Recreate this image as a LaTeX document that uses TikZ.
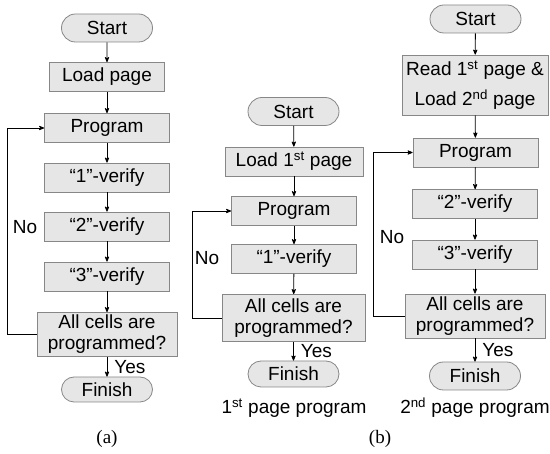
\documentclass[tikz,border=0pt]{standalone}
\usepackage{fontspec}
\setmainfont{Liberation Sans}
\newfontfamily\capfont{Liberation Serif}
\usetikzlibrary{%
  arrows,%
  shapes.misc,% wg. rounded rectangle
  positioning%
}
\definecolor{boxfill}{RGB}{230,230,230}
\definecolor{boxline}{RGB}{135,135,135}
\newcommand{\nth}[1]{\textsuperscript{#1}}

\begin{document}
\begin{tikzpicture}[
  x=1pt, y=-1pt,
  font=\fontsize{19}{21}\selectfont, >=stealth', line width=0.8pt,
  termbox/.style={rounded rectangle, minimum height=28pt, minimum width=93pt, draw=boxline, fill=boxfill, inner sep=1pt},
  procbox/.style={rectangle, minimum height=29pt, minimum width=125pt, draw=boxline, fill=boxfill, inner sep=1pt},
  checkbox/.style={rectangle, minimum height=44pt, minimum width=140pt, draw=boxline, fill=boxfill, inner sep=1pt, align=center},
  flow/.style={->, black},
  yeslabel/.style={right, inner sep=1pt, xshift=6pt}
]
\useasboundingbox (0,0) rectangle (550,454);

% (a)
\node[termbox] (startA) at (107,28) {Start};
\node[procbox, minimum width=115pt] (loadA) at (107,77) {Load page};
\node[procbox] (progA) at (107,128) {Program};
\node[procbox] (v1A) at (107,177.5) {``1''-verify};
\node[procbox] (v2A) at (107,226.5) {``2''-verify};
\node[procbox] (v3A) at (107,276.5) {``3''-verify};
\node[checkbox] (checkA) at (107,334.5) {All cells are\\programmed?};
\node[termbox, minimum height=25pt] (finA) at (107,389.5) {Finish};
\node (noA) at (25,227) {No};
\node[font=\capfont\fontsize{19}{21}\selectfont] (capA) at (107,439) {(a)};

\draw[flow] (startA) -- (loadA);
\draw[flow] (loadA) -- (progA);
\draw[flow] (progA) -- (v1A);
\draw[flow] (v1A) -- (v2A);
\draw[flow] (v2A) -- (v3A);
\draw[flow] (v3A) -- (checkA);
\draw[flow] (checkA) -- (finA) node[midway, yeslabel] (yesA) {Yes};
\draw[flow] (checkA.west) -- ++(-29,0) |- (progA.west);

% (b), 1st page
\node[termbox] (startB) at (293.5,111.5) {Start};
\node[procbox, minimum width=138pt] (loadB) at (294,161.5) {Load 1\nth{st} page};
\node[procbox] (progB) at (294,211) {Program};
\node[procbox] (v1B) at (294,259) {``1''-verify};
\node[checkbox, minimum width=143pt, minimum height=47pt] (checkB) at (293.5,318) {All cells are\\programmed?};
\node[termbox, minimum height=26pt] (finB) at (293.5,374) {Finish};
\node (noB) at (207,258) {No};
\node (capB1) at (294,408) {1\nth{st} page program};

\draw[flow] (startB) -- (loadB);
\draw[flow] (loadB) -- (progB);
\draw[flow] (progB) -- (v1B);
\draw[flow] (v1B) -- (checkB);
\draw[flow] (checkB) -- (finB) node[midway, yeslabel] (yesB) {Yes};
\draw[flow] (checkB.west) -- ++(-29,0) |- (progB.west);

% (b), 2nd page
\node[termbox] (startC) at (475.5,19) {Start};
\node[procbox, minimum width=146pt, minimum height=60pt, align=center, font=\fontsize{19}{30}\selectfont] (readC) at (475,85) {Read 1\nth{st} page \&\\Load 2\nth{nd} page};
\node[procbox] (progC) at (475.5,152.5) {Program};
\node[procbox] (v2C) at (475,204) {``2''-verify};
\node[procbox] (v3C) at (475,254.5) {``3''-verify};
\node[checkbox] (checkC) at (475,316) {All cells are\\programmed?};
\node[termbox] (finC) at (475,376) {Finish};
\node (noC) at (392,237) {No};
\node (capB2) at (475,408) {2\nth{nd} page program};
\node[font=\capfont\fontsize{19}{21}\selectfont] (capB) at (380,439) {(b)};

\draw[flow] (startC) -- (readC);
\draw[flow] (readC) -- (progC);
\draw[flow] (progC) -- (v2C);
\draw[flow] (v2C) -- (v3C);
\draw[flow] (v3C) -- (checkC);
\draw[flow] (checkC) -- (finC) node[midway, yeslabel] (yesC) {Yes};
\draw[flow] (checkC.west) -- ++(-31,0) |- (progC.west);
\end{tikzpicture}
\end{document}
